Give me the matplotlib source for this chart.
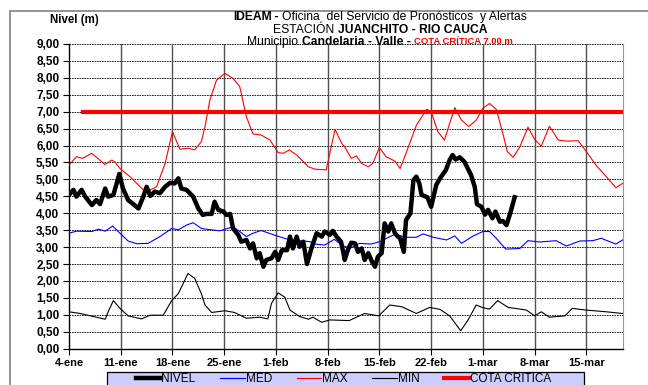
import matplotlib
matplotlib.use("Agg")
import matplotlib.pyplot as plt
from matplotlib.lines import Line2D
from matplotlib.patches import Rectangle

plt.rcParams['font.family'] = ['Liberation Sans', 'DejaVu Sans']

# ---- data (days counted from 4-ene) ----
nivel_dia = [0, 0.6, 1.0, 1.7, 2.2, 3.1, 3.7, 4.2, 4.9, 5.3, 6.0, 6.4, 6.8, 7.3, 8.0, 8.7, 9.4,
             10.05, 10.5, 11.0, 11.6, 12.3, 13.0, 13.7, 14.3, 14.8, 15.2, 15.9, 16.8, 17.5, 18.1,
             18.6, 19.3, 19.7, 20.2, 20.9, 21.3, 21.8, 22.2, 22.9, 23.3, 24.0, 24.5, 24.9, 25.4,
             25.8, 26.3, 26.7, 27.4, 27.9, 28.3, 28.8, 29.5, 29.9, 30.3, 30.8, 31.2, 31.7, 32.2,
             32.8, 33.5, 34.2, 34.6, 35.3, 35.7, 36.2, 36.8, 37.1, 37.3, 37.8, 38.2, 38.7, 39.1,
             39.6, 40.0, 40.5, 41.0, 41.4, 41.8, 42.3, 42.7, 43.2, 43.6, 44.1, 44.5, 44.8, 45.3,
             45.6, 46.2, 46.6, 47.0, 47.4, 47.7, 48.5, 49.0, 49.7, 50.2, 51.0, 51.5, 51.9, 52.3,
             52.9, 53.5, 54.4, 54.9, 55.2, 55.8, 56.3, 56.7, 57.3, 57.7, 58.3, 58.7, 59.2, 59.7,
             60.3]
nivel_m = [4.54, 4.69, 4.49, 4.69, 4.49, 4.24, 4.39, 4.27, 4.73, 4.49, 4.54, 4.84, 5.16, 4.73,
           4.39, 4.27, 4.14, 4.49, 4.78, 4.51, 4.64, 4.59, 4.78, 4.90, 4.88, 5.03, 4.73, 4.69,
           4.49, 4.14, 3.95, 3.98, 3.98, 4.34, 4.10, 4.05, 3.95, 3.98, 3.55, 3.36, 3.16, 3.21,
           2.96, 3.11, 2.67, 2.82, 2.42, 2.62, 2.67, 2.86, 2.62, 2.91, 2.91, 3.31, 2.96, 3.31,
           3.01, 3.16, 2.50, 2.96, 3.41, 3.31, 3.46, 3.36, 3.48, 3.31, 3.16, 2.86, 2.62, 2.96,
           3.13, 3.11, 2.86, 2.96, 2.62, 2.82, 2.57, 2.42, 2.72, 2.82, 3.70, 3.46, 3.70, 3.41,
           3.31, 3.26, 2.86, 3.80, 4.00, 4.98, 5.08, 4.88, 4.54, 4.47, 4.19, 4.84, 5.03, 5.28,
           5.57, 5.72, 5.59, 5.65, 5.52, 5.13, 4.78, 4.27, 4.19, 3.96, 4.10, 3.85, 4.05, 3.75,
           3.77, 3.65, 4.00, 4.47]

max_dia = [0, 1.0, 1.85, 3.06, 4.87, 5.77, 6.2, 6.9, 8.25, 10.05, 10.7, 11.85, 13.0, 14.0, 15.0,
           16.1, 17.0, 17.9, 18.4, 19.06, 19.96, 21.1, 22.2, 23.1, 24.0, 24.9, 26.0, 27.2, 28.3,
           29.0, 29.8, 30.8, 32.4, 33.3, 34.8, 36.0, 36.9, 37.3, 38.2, 38.9, 39.6, 40.5, 41.1,
           42.0, 42.9, 44.1, 44.8, 45.6, 47.0, 48.4, 49.0, 49.9, 50.8, 51.5, 52.2, 53.1, 54.1,
           55.1, 56.0, 56.9, 57.8, 58.7, 59.3, 60.1, 61.0, 62.1, 63.0, 63.9, 65.0, 66.2, 67.3,
           68.9, 70.0, 71.3, 72.7, 74.0, 74.9]
max_m = [5.42, 5.67, 5.62, 5.77, 5.44, 5.57, 5.52, 5.32, 5.08, 4.69, 4.66, 4.78, 5.47, 6.41, 5.89,
         5.92, 5.87, 6.11, 6.56, 7.34, 7.93, 8.13, 7.98, 7.74, 6.85, 6.34, 6.31, 6.16, 5.79,
         5.77, 5.87, 5.72, 5.37, 5.30, 5.28, 6.48, 6.06, 5.96, 5.62, 5.69, 5.47, 5.37, 5.47,
         5.94, 5.67, 5.54, 5.32, 5.77, 6.60, 7.07, 7.00, 6.41, 6.16, 6.65, 7.12, 6.75, 6.56,
         6.75, 7.10, 7.24, 7.07, 6.36, 5.82, 5.65, 5.96, 6.54, 6.18, 5.98, 6.57, 6.16, 6.13,
         6.14, 5.82, 5.42, 5.08, 4.75, 4.88]

med_dia = [0, 1.0, 3.06, 4.0, 4.9, 5.9, 6.9, 8.0, 9.15, 10.7, 12.3, 13.9, 14.8, 15.9, 16.8, 17.9,
           18.9, 20.4, 22.2, 23.1, 24.0, 24.9, 26.0, 28.0, 29.9, 31.7, 32.6, 33.3, 34.6, 35.9,
           36.9, 38.0, 39.3, 40.9, 42.0, 44.1, 45.6, 47.0, 47.9, 49.3, 51.1, 52.2, 53.1, 54.7,
           56.0, 56.9, 57.8, 59.1, 61.0, 62.1, 63.7, 65.9, 67.3, 69.1, 70.9, 72.0, 74.0, 74.9]
med_m = [3.41, 3.47, 3.46, 3.53, 3.47, 3.62, 3.41, 3.18, 3.10, 3.11, 3.31, 3.55, 3.51, 3.65,
         3.72, 3.55, 3.52, 3.48, 3.60, 3.46, 3.31, 3.41, 3.49, 3.34, 3.21, 3.18, 3.16, 3.09,
         3.06, 3.23, 3.06, 2.96, 3.11, 3.09, 3.16, 3.38, 3.29, 3.29, 3.39, 3.29, 3.21, 3.33,
         3.11, 3.33, 3.46, 3.46, 3.26, 2.94, 2.96, 3.19, 3.15, 3.19, 3.03, 3.18, 3.19, 3.26,
         3.09, 3.21]

min_dia = [0, 1.5, 3.3, 4.9, 5.3, 6.0, 6.9, 8.0, 9.8, 11.0, 12.75, 13.9, 14.8, 16.1, 17.0, 17.9,
           18.4, 19.3, 21.1, 22.4, 24.0, 25.8, 26.9, 27.4, 28.3, 29.2, 29.9, 31.2, 32.4, 33.0,
           34.2, 35.3, 37.9, 40.0, 41.9, 43.4, 45.0, 47.0, 48.8, 50.2, 51.5, 53.0, 54.0, 55.1,
           56.0, 56.9, 58.0, 59.4, 61.0, 61.9, 63.0, 63.9, 65.0, 67.1, 68.1, 70.0, 72.7, 74.9]
min_m = [1.09, 1.04, 0.95, 0.87, 1.09, 1.42, 1.19, 0.97, 0.88, 0.99, 0.99, 1.42, 1.63, 2.22,
         2.08, 1.63, 1.29, 1.07, 1.12, 1.07, 0.90, 0.93, 0.88, 1.34, 1.65, 1.52, 1.14, 0.95,
         0.87, 0.93, 0.78, 0.85, 0.83, 1.04, 0.97, 1.29, 1.24, 1.04, 1.22, 1.16, 0.97, 0.53,
         0.85, 1.29, 1.21, 1.17, 1.42, 1.22, 1.17, 1.14, 0.97, 1.09, 0.93, 0.97, 1.19, 1.14,
         1.09, 1.04]

cota_dia = [1.85, 75]
cota_m = [7.00, 7.00]

tick_dias = [0, 7, 14, 21, 28, 35, 42, 49, 56, 63, 70]
tick_labels = ['4-ene', '11-ene', '18-ene', '25-ene', '1-feb', '8-feb', '15-feb',
               '22-feb', '1-mar', '8-mar', '15-mar']
y_ticks = [i * 0.5 for i in range(19)]

# ---- figure ----
W, H = 648, 385
fig = plt.figure(figsize=(W / 100, H / 100), dpi=100)
fig.patch.set_facecolor('white')

# outer frame
fig.patches.append(Rectangle((10 / W, -0.05), 1.0, 1 - 11 / H + 0.05, transform=fig.transFigure,
                             fill=False, edgecolor='#808080', linewidth=1.2))

ax = fig.add_axes([69 / W, 1 - 348.7 / H, (623.3 - 69) / W, (348.7 - 43.9) / H])
ax.set_xlim(0, 75)
ax.set_ylim(0, 9)

for y in y_ticks[1:]:
    ax.axhline(y, color='black', linestyle=(0, (2, 1)), linewidth=0.6, zorder=1)
for d in tick_dias[1:]:
    ax.axvline(d, color='#505050', linewidth=1.0, zorder=1)

ax.plot(min_dia, min_m, color='black', linewidth=0.8, zorder=3, label='MIN')
ax.plot(med_dia, med_m, color='#0000ff', linewidth=0.8, zorder=3, label='MED')
ax.plot(max_dia, max_m, color='#ff0000', linewidth=0.8, zorder=3, label='MAX')
ax.plot(cota_dia, cota_m, color='#ff0000', linewidth=3.0, zorder=4, label='COTA CRITICA')
ax.plot(nivel_dia, nivel_m, color='black', linewidth=3.2, zorder=5, label='NIVEL',
        solid_joinstyle='round')

ax.set_xticks(tick_dias)
ax.set_xticklabels(tick_labels, fontsize=8, fontweight='bold')
ax.set_yticks(y_ticks)
ax.set_yticklabels([f"{v:.2f}".replace('.', ',') for v in y_ticks], fontsize=8.5,
                   fontweight='bold')
ax.tick_params(axis='both', direction='out', length=4, width=0.8, color='black', pad=3)

ax.spines['top'].set_visible(False)
ax.spines['right'].set_color('#999999')
ax.spines['left'].set_linewidth(1.0)
ax.spines['bottom'].set_linewidth(1.0)

# ---- titles ----
fig.text(74 / W, 1 - 20 / H, 'Nivel (m)', fontsize=8.3, fontweight='bold', ha='center',
         va='center')

renderer = fig.canvas.get_renderer()


def rich_line(yc, pieces, xc):
    objs = []
    for s, kw in pieces:
        objs.append(fig.text(0, 1 - yc / H, s, ha='left', va='center', **kw))
    widths = [t.get_window_extent(renderer).width for t in objs]
    x = xc - sum(widths) / 2
    for t, w in zip(objs, widths):
        t.set_x(x / W)
        x += w


fs = 8.7
rich_line(17, [('IDEAM', dict(fontsize=fs, fontweight='bold')),
               (' - ', dict(fontsize=fs, fontweight='bold')),
               ('Oficina  del Servicio de Pronósticos  y Alertas', dict(fontsize=fs))], 380)
rich_line(30, [('ESTACIÓN ', dict(fontsize=fs)),
               ('JUANCHITO - RIO CAUCA', dict(fontsize=fs, fontweight='bold'))], 380)
rich_line(42, [('Municipio ', dict(fontsize=fs)),
               ('Candelaria - Valle - ', dict(fontsize=fs, fontweight='bold')),
               ('COTA CRÍTICA 7.00 m', dict(fontsize=6.8, fontweight='bold', color='#ff0000'))],
          380)

# ---- legend ----
lx0, lx1, ly0 = 107, 584, 372
fig.patches.append(Rectangle((lx0 / W, 1 - 395 / H), (lx1 - lx0) / W, (395 - ly0) / H,
                             transform=fig.transFigure, facecolor='#ccccff',
                             edgecolor='black', linewidth=0.9, zorder=0))
handles = [Line2D([], [], color='black', linewidth=3.2),
           Line2D([], [], color='#0000ff', linewidth=0.8),
           Line2D([], [], color='#ff0000', linewidth=0.8),
           Line2D([], [], color='black', linewidth=0.8),
           Line2D([], [], color='#ff0000', linewidth=3.0)]
labels = ['NIVEL', 'MED', 'MAX', 'MIN', 'COTA CRITICA']
leg = fig.legend(handles, labels, loc='center',
                 bbox_to_anchor=((lx0 + lx1) / 2 / W - 2 / W, 1 - 379 / H),
                 ncol=5, fontsize=8.5, frameon=False, handlelength=2.1,
                 handletextpad=0.05, columnspacing=2.1, borderpad=0, borderaxespad=0)

fig.savefig('out.png', dpi=100)
